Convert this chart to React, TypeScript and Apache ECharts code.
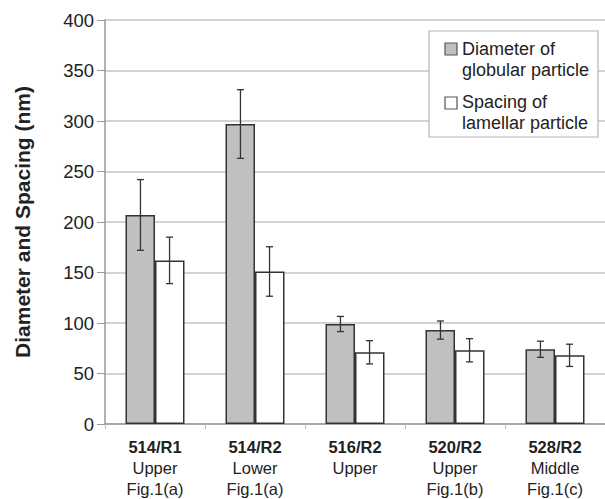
import React, { useEffect, useRef } from "react";
import * as echarts from "echarts";

const codes = ["514/R1", "514/R2", "516/R2", "520/R2", "528/R2"];
const positions = ["Upper", "Lower", "Upper", "Upper", "Middle"];
const figures = ["Fig.1(a)", "Fig.1(a)", "", "Fig.1(b)", "Fig.1(c)"];
const globular = [207, 297, 99, 93, 74];
const globularErr = [35, 34, 7.5, 9, 8];
const lamellar = [162, 151, 71, 73, 68];
const lamellarErr = [23, 24.5, 11.5, 11.5, 11];
const yTicks = [0, 50, 100, 150, 200, 250, 300, 350, 400];

const FONT = "'Liberation Sans', Arial, sans-serif";

function errorSeries(values: number[], errs: number[], offset: number) {
  return {
    type: "custom",
    silent: true,
    z: 5,
    encode: { x: 0, y: 1 },
    data: values.map((v, i) => [i, v, errs[i]]),
    renderItem: (params: any, api: any) => {
      const idx = api.value(0);
      const val = api.value(1);
      const err = api.value(2);
      const band = api.size([1, 0])[0];
      const c = api.coord([idx, val]);
      const x = c[0] + offset * band;
      const top = api.coord([idx, val + err])[1];
      const bot = api.coord([idx, val - err])[1];
      const cap = 3.5;
      const st = { stroke: "#333", lineWidth: 1.3 };
      return {
        type: "group",
        children: [
          { type: "line", shape: { x1: x, y1: top, x2: x, y2: bot }, style: st },
          { type: "line", shape: { x1: x - cap, y1: top, x2: x + cap, y2: top }, style: st },
          { type: "line", shape: { x1: x - cap, y1: bot, x2: x + cap, y2: bot }, style: st },
        ],
      };
    },
  };
}

export default function App() {
  const ref = useRef<HTMLDivElement>(null);
  useEffect(() => {
    if (!ref.current) return;
    const chart = echarts.init(ref.current, null, { renderer: "svg" });
    chart.setOption({
      animation: false,
      backgroundColor: "#ffffff",
      grid: { left: 105, top: 20, height: 405, width: 507, containLabel: false },
      xAxis: {
        type: "category",
        data: codes,
        axisLine: { lineStyle: { color: "#999", width: 1.5 } },
        axisTick: { show: true, length: 5, lineStyle: { color: "#bbb" } },
        axisLabel: {
          margin: 12,
          color: "#222",
          fontFamily: FONT,
          fontSize: 16.5,
          lineHeight: 21,
          interval: 0,
          formatter: (v: string, i: number) =>
            `{b|${v}}\n${positions[i]}` + (figures[i] ? `\n${figures[i]}` : ""),
          rich: {
            b: { fontWeight: "bold", fontSize: 16.5, lineHeight: 21, fontFamily: FONT, color: "#222" },
          },
        },
      },
      yAxis: {
        type: "value",
        min: 0,
        max: 400,
        interval: 50,
        name: "Diameter and Spacing (nm)",
        nameLocation: "middle",
        nameGap: 72,
        nameTextStyle: { fontFamily: FONT, fontSize: 21, fontWeight: "bold", color: "#222" },
        axisLine: { show: true, lineStyle: { color: "#999", width: 1.5 } },
        axisTick: { show: true, length: 8, lineStyle: { color: "#999" } },
        axisLabel: {
          color: "#222",
          fontFamily: FONT,
          fontSize: 18.5,
          margin: 11,
          formatter: (v: number) => (yTicks.includes(v) ? String(v) : ""),
        },
        splitLine: { lineStyle: { color: "#c4c4c4", width: 1.5 } },
      },
      series: [
        {
          type: "bar",
          name: "Diameter of globular particle",
          data: globular,
          barWidth: 29.5,
          barGap: "0%",
          itemStyle: { color: "#c0c0c0", borderColor: "#333", borderWidth: 1.5 },
        },
        {
          type: "bar",
          name: "Spacing of lamellar particle",
          data: lamellar,
          barWidth: 29.5,
          barGap: "0%",
          itemStyle: { color: "#ffffff", borderColor: "#333", borderWidth: 1.5 },
        },
        errorSeries(globular, globularErr, -0.1455),
        errorSeries(lamellar, lamellarErr, 0.1455),
      ],
      graphic: [
        {
          type: "rect",
          shape: { x: 429, y: 31, width: 169, height: 106 },
          style: { fill: "#fff", stroke: "#b5b5b5", lineWidth: 1.2 },
          z: 10,
        },
        {
          type: "rect",
          shape: { x: 445, y: 43, width: 12, height: 12 },
          style: { fill: "#c0c0c0", stroke: "#555", lineWidth: 1.2 },
          z: 11,
        },
        {
          type: "rect",
          shape: { x: 445, y: 97, width: 12, height: 12 },
          style: { fill: "#fff", stroke: "#555", lineWidth: 1.2 },
          z: 11,
        },
        {
          type: "text",
          x: 462,
          y: 38,
          z: 11,
          style: {
            text: "Diameter of\nglobular particle",
            font: `18px ${FONT}`,
            lineHeight: 21,
            fill: "#222",
          },
        },
        {
          type: "text",
          x: 462,
          y: 91,
          z: 11,
          style: {
            text: "Spacing of\nlamellar particle",
            font: `18px ${FONT}`,
            lineHeight: 21,
            fill: "#222",
          },
        },
      ],
    });
    return () => chart.dispose();
  }, []);
  return <div ref={ref} style={{ width: 605, height: 499, position: "absolute", left: 0, top: 0 }} />;
}
